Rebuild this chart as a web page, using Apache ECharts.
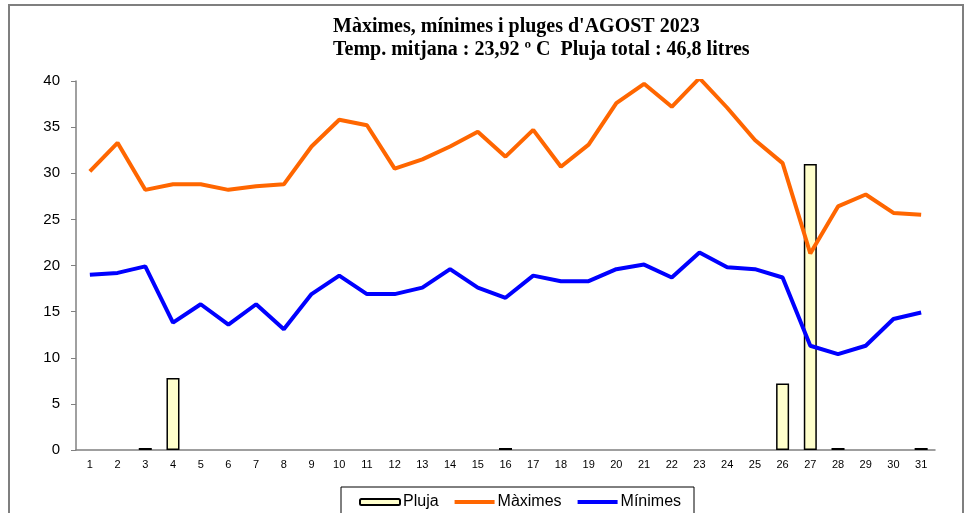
<!DOCTYPE html>
<html>
<head>
<meta charset="utf-8">
<script src="https://cdn.jsdelivr.net/npm/echarts@6/dist/echarts.min.js"></script>
<style>
  html, body { margin: 0; padding: 0; background: #fff; }
  #main { width: 968px; height: 513px; }
</style>
</head>
<body>
<div id="main"></div>
<script>
// dies del mes
var days = ['1','2','3','4','5','6','7','8','9','10','11','12','13','14','15','16',
            '17','18','19','20','21','22','23','24','25','26','27','28','29','30','31']

// pluja (litres)
var pluja = [0, 0, 0.2, 7.8, 0, 0, 0, 0, 0, 0, 0, 0, 0, 0, 0, 0.2,
             0, 0, 0, 0, 0, 0, 0, 0, 0, 7.2, 31.0, 0.2, 0, 0, 0.2]

// temperatures maximes
var maximes = [30.2, 33.3, 28.2, 28.8, 28.8, 28.2, 28.6, 28.8, 32.9, 35.8, 35.2, 30.5, 31.5, 32.9, 34.5, 31.8,
               34.7, 30.7, 33.1, 37.6, 39.7, 37.2, 40.3, 37.1, 33.6, 31.1, 21.3, 26.4, 27.7, 25.7, 25.5]

// temperatures minimes
var minimes = [19.0, 19.2, 19.9, 13.8, 15.8, 13.6, 15.8, 13.1, 16.9, 18.9, 16.9, 16.9, 17.6, 19.6, 17.6, 16.5,
               18.9, 18.3, 18.3, 19.6, 20.1, 18.7, 21.4, 19.8, 19.6, 18.7, 11.3, 10.4, 11.3, 14.2, 14.9]

var yTicks = { min: 0, max: 40, interval: 5 }

// dies sense pluja: no es dibuixa cap barra
var plujaBars = pluja.map(function (v) { return v > 0 ? v : '-' })

var lineIcon = 'path://M0,0 L40,0 L40,4 L0,4 Z'

var myChart = echarts.init(document.getElementById('main'))

myChart.setOption({
    animation: false,
    backgroundColor: '#fff',
    title: {
        text: "Màximes, mínimes i pluges d'AGOST 2023\nTemp. mitjana : 23,92 º C  Pluja total : 46,8 litres",
        left: 333,
        top: 15,
        padding: 0,
        textStyle: {
            fontFamily: 'Liberation Serif',
            fontWeight: 'bold',
            fontSize: 20,
            lineHeight: 23,
            color: '#000'
        }
    },
    graphic: [
        {   // marc exterior
            type: 'rect',
            shape: { x: 9, y: 5, width: 954, height: 600 },
            style: { fill: 'none', stroke: '#7f7f7f', lineWidth: 2 },
            silent: true
        },
        {   // caixa de la llegenda
            type: 'rect',
            shape: { x: 341, y: 487, width: 353, height: 60 },
            style: { fill: '#fff', stroke: '#000', lineWidth: 1 },
            z: 0,
            silent: true
        }
    ],
    legend: {
        left: 359,
        top: 494,
        padding: 0,
        itemGap: 16,
        itemWidth: 40,
        itemHeight: 6,
        textStyle: {
            fontFamily: 'Liberation Sans',
            fontSize: 16,
            color: '#000',
            padding: [0, 0, 0, -2]
        },
        data: [
            { name: 'Pluja' },
            { name: 'Màximes', icon: lineIcon },
            { name: 'Mínimes', icon: lineIcon }
        ]
    },
    grid: {
        left: 76,
        right: 33,
        top: 81,
        bottom: 63
    },
    xAxis: {
        type: 'category',
        data: days,
        boundaryGap: true,
        axisLine: { lineStyle: { color: '#808080', width: 1.5 } },
        axisTick: { length: 5, lineStyle: { color: '#808080' } },
        axisLabel: {
            fontFamily: 'Liberation Sans',
            fontSize: 11,
            color: '#000',
            margin: 9,
            interval: 0
        }
    },
    yAxis: {
        type: 'value',
        min: yTicks.min,
        max: yTicks.max,
        interval: yTicks.interval,
        axisLine: { show: true, lineStyle: { color: '#808080', width: 1.5 } },
        axisTick: { show: true, length: 5, lineStyle: { color: '#808080' } },
        splitLine: { show: false },
        axisLabel: {
            fontFamily: 'Liberation Sans',
            fontSize: 15,
            color: '#000',
            margin: 16
        }
    },
    series: [
        {
            name: 'Pluja',
            type: 'bar',
            data: plujaBars,
            barWidth: '47%',
            barMinHeight: 2,
            itemStyle: { color: '#FFFFCC', borderColor: '#000', borderWidth: 1.5 }
        },
        {
            name: 'Màximes',
            type: 'line',
            data: maximes,
            symbol: 'none',
            showSymbol: false,
            clip: true,
            lineStyle: { color: '#FF6600', width: 4 },
            itemStyle: { color: '#FF6600' }
        },
        {
            name: 'Mínimes',
            type: 'line',
            data: minimes,
            symbol: 'none',
            showSymbol: false,
            lineStyle: { color: '#0000FF', width: 4 },
            itemStyle: { color: '#0000FF' }
        }
    ]
})
</script>
</body>
</html>
